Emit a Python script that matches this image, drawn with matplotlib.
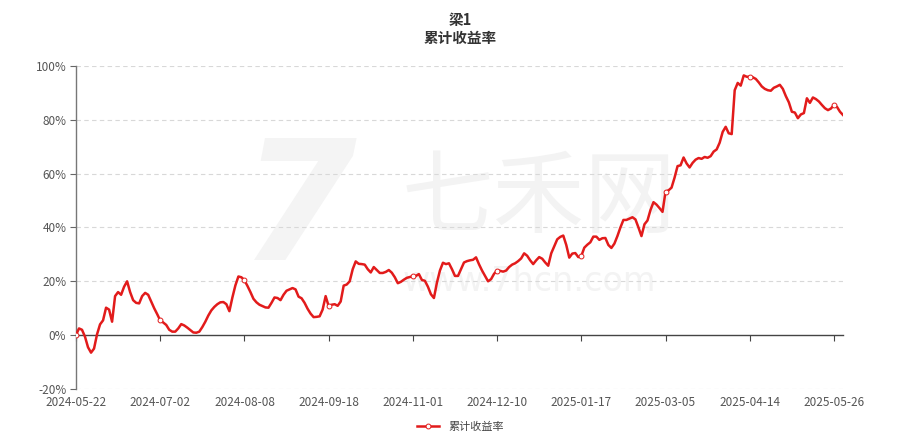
import matplotlib
matplotlib.use("Agg")
import matplotlib.pyplot as plt
from matplotlib.ticker import FuncFormatter

plt.rcParams['font.family'] = ['Noto Sans CJK SC', 'DejaVu Sans']

# cumulative return (%) per trading day
returns = [
    0.0, 2.5, 2.0, -0.6, -4.5, -6.5, -5.0, 0.3, 4.0, 5.5,
    10.2, 9.5, 5.0, 14.5, 16.0, 15.0, 18.0, 20.0, 16.0, 13.0,
    12.0, 11.8, 14.5, 15.7, 15.0, 12.5, 10.0, 7.8, 5.5, 4.7,
    3.8, 2.0, 1.3, 1.3, 2.5, 4.1, 3.6, 2.8, 1.9, 1.0,
    0.9, 1.3, 3.0, 5.0, 7.3, 9.2, 10.5, 11.5, 12.2, 12.3,
    11.5, 8.9, 14.0, 18.5, 21.8, 21.5, 20.4, 18.3, 16.0, 13.5,
    12.2, 11.3, 10.8, 10.3, 10.2, 12.0, 14.0, 13.8, 13.0, 15.0,
    16.5, 17.0, 17.5, 17.0, 14.3, 13.7, 12.0, 9.8, 8.0, 6.7,
    6.8, 7.0, 9.5, 14.5, 10.8, 11.3, 11.5, 10.9, 12.5, 18.4,
    18.8, 20.0, 24.5, 27.4, 26.5, 26.4, 26.2, 24.5, 23.3, 25.3,
    24.2, 23.1, 23.1, 23.5, 24.2, 23.2, 21.5, 19.3, 19.8, 20.6,
    21.3, 21.6, 21.9, 22.0, 22.7, 20.5, 20.2, 18.0, 15.2, 13.8,
    19.5, 24.0, 26.9, 26.4, 26.7, 24.5, 22.0, 22.0, 24.5, 27.0,
    27.5, 27.8, 28.0, 28.9, 26.3, 24.0, 22.0, 20.0, 20.8, 22.8,
    24.0, 23.9, 23.6, 24.0, 25.3, 26.2, 26.7, 27.5, 28.5, 30.4,
    29.5, 27.8, 26.4, 27.8, 29.0, 28.4, 27.0, 25.8, 30.4, 33.0,
    35.6, 36.5, 37.0, 33.5, 28.8, 30.3, 30.5, 29.0, 29.4, 32.5,
    33.6, 34.5, 36.6, 36.6, 35.4, 36.0, 36.1, 33.5, 32.4, 34.0,
    36.8, 40.0, 42.8, 42.8, 43.3, 43.8, 43.0, 40.0, 36.8, 41.2,
    42.6, 46.5, 49.4, 48.5, 47.2, 45.8, 53.3, 53.8, 54.8, 58.5,
    62.8, 63.1, 66.0, 63.8, 62.3, 64.0, 65.2, 65.8, 65.5, 66.2,
    65.9, 66.5, 68.2, 69.0, 71.5, 75.5, 77.4, 75.0, 74.7, 91.0,
    93.7, 92.7, 96.5, 96.0, 96.0, 95.8, 95.2, 93.9, 92.4, 91.5,
    91.0, 90.8, 91.9, 92.4, 93.0, 91.5, 88.8, 86.5, 83.0, 82.7,
    80.6, 82.0, 82.5, 88.0, 86.3, 88.3, 87.7, 86.8, 85.5, 84.3,
    83.6, 84.2, 85.5, 84.8, 83.0, 81.8,
]
date_labels = ['2024-05-22', '2024-07-02', '2024-08-08', '2024-09-18', '2024-11-01',
               '2024-12-10', '2025-01-17', '2025-03-05', '2025-04-14', '2025-05-26']
label_every = 28
y_ticks = [-20, 0, 20, 40, 60, 80, 100]

title = '梁1\n累计收益率'
series_name = '累计收益率'
red = '#e21b1b'

fig = plt.figure(figsize=(9.21, 4.44), dpi=100)
ax = fig.add_axes([0.0825, 0.1239, 0.8328, 0.7275])
ax.set_zorder(2)
ax.patch.set_alpha(0)

# faint watermark, kept under the axes
fig.text(0.325, 0.52, '7', fontsize=120, fontweight='bold', style='italic',
         color='#f4f4f4', ha='center', va='center', zorder=0, family='DejaVu Sans')
fig.text(0.585, 0.55, '七禾网', fontsize=66, color='#f3f3f3',
         ha='center', va='center', zorder=0)
fig.text(0.575, 0.365, 'www.7hcn.com', fontsize=24, color='#f3f3f3',
         ha='center', va='center', zorder=0, family='DejaVu Sans')

x = list(range(len(returns)))
ax.plot(x, returns, color=red, lw=1.8, zorder=3,
        marker='o', markevery=label_every, markersize=3.5,
        markerfacecolor='white', markeredgecolor=red, markeredgewidth=0.7,
        label=series_name)

ax.set_xlim(0, len(returns) - 1)
ax.set_ylim(-20, 100)

for v in y_ticks:
    if v != 0:
        ax.axhline(v, color='#d8d8d8', lw=0.8, ls=(0, (4, 3)), zorder=1)

ax.set_yticks(y_ticks)
ax.yaxis.set_major_formatter(FuncFormatter(lambda v, p: f'{v:.0f}%'))
ax.tick_params(axis='y', length=4, width=0.8, color='#666666',
               labelsize=8.5, labelcolor='#555555', pad=3)

for s in ['top', 'right']:
    ax.spines[s].set_visible(False)
ax.spines['left'].set_color('#777777')
ax.spines['left'].set_linewidth(1.0)
ax.spines['bottom'].set_position(('data', 0))
ax.spines['bottom'].set_color('#444444')
ax.spines['bottom'].set_linewidth(1.0)
ax.spines['bottom'].set_zorder(2)

tick_pos = [i * label_every for i in range(len(date_labels))]
ax.set_xticks(tick_pos)
ax.set_xticklabels([])
ax.tick_params(axis='x', length=4, width=0.8, color='#444444', direction='out')

sec = ax.secondary_xaxis('bottom')
sec.set_xticks(tick_pos)
sec.set_xticklabels(date_labels)
sec.tick_params(length=0, labelsize=8.5, labelcolor='#555555', pad=5)
sec.spines['bottom'].set_visible(False)

fig.text(0.5, 0.935, title, ha='center', va='center', fontsize=10.5,
         fontweight='bold', color='#333333', linespacing=1.15)

fig.legend(loc='lower center', bbox_to_anchor=(0.5, 0.005), frameon=False,
           fontsize=8, labelcolor='#444444', handlelength=2.0)

fig.savefig('out.png', dpi=100)
